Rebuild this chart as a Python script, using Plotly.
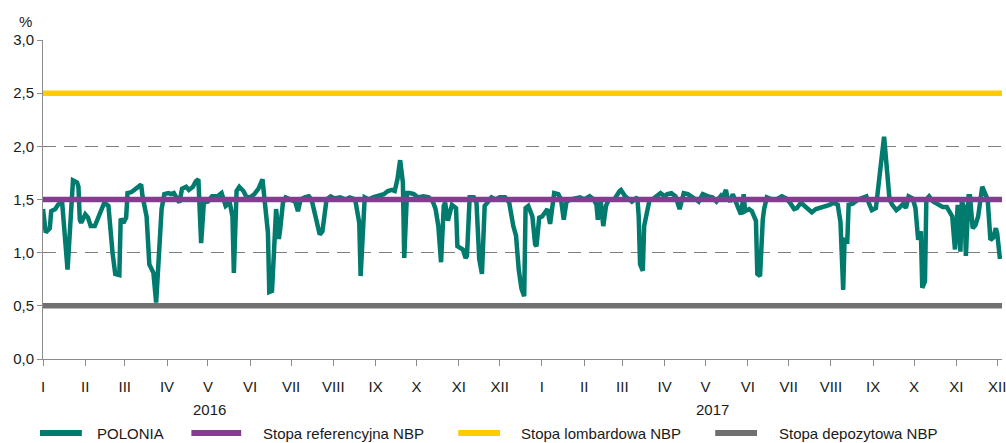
import plotly.graph_objects as go

# ===================================================================
# DATA
# ===================================================================
polonia_dates = [
    "2016-01-01", "2016-01-03", "2016-01-06", "2016-01-07", "2016-01-10", "2016-01-12",
    "2016-01-15", "2016-01-19", "2016-01-23", "2016-01-26", "2016-01-27", "2016-01-28",
    "2016-01-29", "2016-02-01", "2016-02-03", "2016-02-05", "2016-02-08", "2016-02-10",
    "2016-02-13", "2016-02-15", "2016-02-18", "2016-02-19", "2016-02-21", "2016-02-23",
    "2016-02-26", "2016-02-27", "2016-02-29", "2016-03-02", "2016-03-03", "2016-03-06",
    "2016-03-08", "2016-03-11", "2016-03-13", "2016-03-14", "2016-03-17", "2016-03-19",
    "2016-03-22", "2016-03-24", "2016-03-28", "2016-03-30", "2016-04-02", "2016-04-04",
    "2016-04-06", "2016-04-10", "2016-04-12", "2016-04-15", "2016-04-17", "2016-04-20",
    "2016-04-22", "2016-04-24", "2016-04-26", "2016-04-28", "2016-05-01", "2016-05-04",
    "2016-05-08", "2016-05-11", "2016-05-14", "2016-05-17", "2016-05-19", "2016-05-20",
    "2016-05-22", "2016-05-24", "2016-05-27", "2016-05-29", "2016-06-01", "2016-06-04",
    "2016-06-07", "2016-06-10", "2016-06-14", "2016-06-15", "2016-06-17", "2016-06-20",
    "2016-06-22", "2016-06-23", "2016-06-25", "2016-06-27", "2016-07-01", "2016-07-04",
    "2016-07-06", "2016-07-08", "2016-07-11", "2016-07-14", "2016-07-16", "2016-07-19",
    "2016-07-22", "2016-07-24", "2016-07-27", "2016-07-30", "2016-08-02", "2016-08-06",
    "2016-08-10", "2016-08-13", "2016-08-17", "2016-08-20", "2016-08-21", "2016-08-24",
    "2016-08-27", "2016-08-30", "2016-09-03", "2016-09-07", "2016-09-10", "2016-09-13",
    "2016-09-15", "2016-09-17", "2016-09-19", "2016-09-21", "2016-09-22", "2016-09-24",
    "2016-09-26", "2016-09-29", "2016-10-02", "2016-10-06", "2016-10-10", "2016-10-13",
    "2016-10-15", "2016-10-17", "2016-10-19", "2016-10-21", "2016-10-22", "2016-10-24",
    "2016-10-27", "2016-10-30", "2016-10-31", "2016-11-02", "2016-11-04", "2016-11-06",
    "2016-11-07", "2016-11-09", "2016-11-12", "2016-11-14", "2016-11-16", "2016-11-18",
    "2016-11-20", "2016-11-22", "2016-11-25", "2016-11-28", "2016-12-01", "2016-12-05",
    "2016-12-08", "2016-12-11", "2016-12-13", "2016-12-15", "2016-12-17", "2016-12-19",
    "2016-12-20", "2016-12-22", "2016-12-25", "2016-12-27", "2016-12-28", "2016-12-30",
    "2017-01-01", "2017-01-04", "2017-01-05", "2017-01-07", "2017-01-08", "2017-01-10",
    "2017-01-13", "2017-01-15", "2017-01-17", "2017-01-19", "2017-01-22", "2017-01-25",
    "2017-01-29", "2017-02-01", "2017-02-05", "2017-02-08", "2017-02-10", "2017-02-11",
    "2017-02-13", "2017-02-15", "2017-02-17", "2017-02-19", "2017-02-23", "2017-02-27",
    "2017-02-28", "2017-03-03", "2017-03-06", "2017-03-08", "2017-03-12", "2017-03-13",
    "2017-03-14", "2017-03-16", "2017-03-17", "2017-03-19", "2017-03-21", "2017-03-23",
    "2017-03-26", "2017-03-29", "2017-04-01", "2017-04-03", "2017-04-06", "2017-04-09",
    "2017-04-12", "2017-04-15", "2017-04-18", "2017-04-21", "2017-04-24", "2017-04-26",
    "2017-04-29", "2017-05-03", "2017-05-06", "2017-05-09", "2017-05-12", "2017-05-13",
    "2017-05-16", "2017-05-17", "2017-05-19", "2017-05-21", "2017-05-23", "2017-05-25",
    "2017-05-27", "2017-05-29", "2017-05-30", "2017-06-02", "2017-06-04", "2017-06-07",
    "2017-06-08", "2017-06-10", "2017-06-12", "2017-06-13", "2017-06-15", "2017-06-19",
    "2017-06-22", "2017-06-26", "2017-06-29", "2017-07-02", "2017-07-05", "2017-07-07",
    "2017-07-10", "2017-07-13", "2017-07-15", "2017-07-18", "2017-07-21", "2017-07-24",
    "2017-07-28", "2017-07-31", "2017-08-03", "2017-08-06", "2017-08-08", "2017-08-10",
    "2017-08-11", "2017-08-13", "2017-08-14", "2017-08-17", "2017-08-21", "2017-08-24",
    "2017-08-27", "2017-08-29", "2017-08-31", "2017-09-03", "2017-09-05", "2017-09-07",
    "2017-09-09", "2017-09-11", "2017-09-13", "2017-09-15", "2017-09-18", "2017-09-20",
    "2017-09-23", "2017-09-25", "2017-09-27", "2017-09-30", "2017-10-02", "2017-10-04",
    "2017-10-06", "2017-10-07", "2017-10-09", "2017-10-10", "2017-10-12", "2017-10-15",
    "2017-10-19", "2017-10-22", "2017-10-25", "2017-10-27", "2017-10-29", "2017-10-31",
    "2017-11-02", "2017-11-04", "2017-11-05", "2017-11-07", "2017-11-08", "2017-11-10",
    "2017-11-11", "2017-11-13", "2017-11-15", "2017-11-17", "2017-11-20", "2017-11-22",
    "2017-11-24", "2017-11-26", "2017-11-28", "2017-11-30", "2017-12-01", "2017-12-03",
]
polonia_values = [
    1.41, 1.19, 1.23, 1.39, 1.41, 1.45,
    1.48, 0.84, 1.68, 1.66, 1.62, 1.31,
    1.28, 1.36, 1.33, 1.25, 1.25, 1.31,
    1.42, 1.47, 1.44, 1.25, 1.00, 0.80,
    0.79, 1.32, 1.28, 1.33, 1.56, 1.57,
    1.59, 1.62, 1.64, 1.53, 1.34, 0.89,
    0.81, 0.53, 1.41, 1.55, 1.56, 1.55,
    1.56, 1.47, 1.60, 1.62, 1.59, 1.62,
    1.67, 1.69, 1.09, 1.47, 1.48, 1.53,
    1.53, 1.56, 1.44, 1.47, 1.34, 0.81,
    1.58, 1.62, 1.58, 1.53, 1.52, 1.55,
    1.60, 1.69, 1.19, 0.63, 0.64, 1.41,
    1.13, 1.22, 1.47, 1.52, 1.50, 1.48,
    1.39, 1.50, 1.52, 1.53, 1.50, 1.34,
    1.17, 1.20, 1.50, 1.53, 1.51, 1.52,
    1.50, 1.52, 1.50, 1.28, 0.78, 1.52,
    1.50, 1.52, 1.53, 1.55, 1.58, 1.59,
    1.58, 1.69, 1.87, 1.66, 0.95, 1.56,
    1.56, 1.55, 1.52, 1.53, 1.52, 1.48,
    1.41, 1.25, 0.91, 1.44, 1.47, 1.30,
    1.45, 1.42, 1.06, 1.05, 1.03, 0.95,
    0.97, 1.52, 1.52, 1.47, 0.94, 0.80,
    1.44, 1.47, 1.52, 1.50, 1.52, 1.52,
    1.47, 1.25, 1.16, 0.84, 0.66, 0.59,
    1.42, 1.44, 1.34, 1.08, 1.06, 1.33,
    1.34, 1.39, 1.41, 1.27, 1.36, 1.56,
    1.55, 1.50, 1.31, 1.48, 1.50, 1.51,
    1.52, 1.50, 1.53, 1.50, 1.45, 1.31,
    1.50, 1.25, 1.44, 1.50, 1.50, 1.58,
    1.59, 1.53, 1.50, 1.48, 1.52, 1.34,
    0.89, 0.83, 1.25, 1.39, 1.50, 1.50,
    1.53, 1.56, 1.53, 1.55, 1.56, 1.53,
    1.41, 1.56, 1.55, 1.53, 1.50, 1.48,
    1.55, 1.53, 1.52, 1.48, 1.53, 1.50,
    1.59, 1.52, 1.48, 1.55, 1.47, 1.42,
    1.36, 1.55, 1.39, 1.41, 1.39, 1.30,
    0.80, 0.78, 1.31, 1.41, 1.52, 1.50,
    1.50, 1.53, 1.51, 1.47, 1.41, 1.42,
    1.47, 1.44, 1.41, 1.38, 1.41, 1.42,
    1.44, 1.45, 1.47, 1.45, 1.29, 0.65,
    1.12, 1.11, 1.45, 1.46, 1.50, 1.51,
    1.53, 1.46, 1.40, 1.42, 1.70, 1.87,
    2.09, 1.73, 1.50, 1.45, 1.40, 1.42,
    1.46, 1.42, 1.53, 1.51, 1.42, 1.12,
    1.20, 0.67, 0.73, 1.50, 1.53, 1.48,
    1.45, 1.43, 1.43, 1.39, 1.34, 1.03,
    1.45, 1.01, 1.48, 1.42, 0.97, 1.53,
    1.53, 1.23, 1.26, 1.34, 1.62, 1.56,
    1.50, 1.12, 1.14, 1.23, 1.18, 0.94,
]

rate_dates = ["2016-01-01", "2017-12-04 12:00"]
ref_rate = [1.5, 1.5]          # Stopa referencyjna NBP
lombard_rate = [2.5, 2.5]      # Stopa lombardowa NBP
deposit_rate = [0.5, 0.5]      # Stopa depozytowa NBP

month_ticks = [f"{y}-{m:02d}-01" for y in (2016, 2017) for m in range(1, 13)]
month_labels = ["I", "II", "III", "IV", "V", "VI", "VII", "VIII", "IX", "X", "XI", "XII"] * 2
year_labels = ["2016", "2017"]
year_label_dates = ["2016-05-02", "2017-05-06"]

series_names = ["POLONIA", "Stopa referencyjna NBP", "Stopa lombardowa NBP", "Stopa depozytowa NBP"]
series_colors = ["#007B6E", "#843C8E", "#FFCC00", "#707070"]

# ===================================================================
# FIGURE
# ===================================================================
FONT = "Liberation Sans, Arial, sans-serif"
W, H = 1006, 443
L, R, T, B = 43, 0, 40, 84
plot_w = W - L - R
plot_h = H - T - B

fig = go.Figure()

fig.add_trace(go.Scatter(x=polonia_dates, y=polonia_values, mode="lines",
                         name=series_names[0],
                         line=dict(color=series_colors[0], width=4.5)))
for name, color, vals in zip(series_names[1:], series_colors[1:],
                             [ref_rate, lombard_rate, deposit_rate]):
    fig.add_trace(go.Scatter(x=rate_dates, y=vals, mode="lines", name=name,
                             line=dict(color=color, width=5.5)))

# hand-drawn legend below the axis (line sample + label), pixel positions
legend_line_px = [(40, 82), (192, 242), (460, 502), (718, 760)]
legend_text_px = [95, 262, 521, 780]
legend_y = (H - B - 433) / plot_h
for name, color, (a, b), tx in zip(series_names, series_colors, legend_line_px, legend_text_px):
    fig.add_shape(type="line", xref="paper", yref="paper",
                  x0=(a - L) / plot_w, x1=(b - L) / plot_w,
                  y0=legend_y, y1=legend_y, line=dict(color=color, width=6))
    fig.add_annotation(text=name, xref="paper", yref="paper",
                       x=(tx - L) / plot_w, y=legend_y, xanchor="left",
                       yanchor="middle", showarrow=False,
                       font=dict(size=15, color="#1a1a1a", family=FONT))

for txt, d in zip(year_labels, year_label_dates):
    fig.add_annotation(text=txt, x=d, xref="x", y=-50 / plot_h, yref="paper",
                       showarrow=False, yanchor="middle",
                       font=dict(size=15, color="#1a1a1a", family=FONT))

fig.add_annotation(text="%", xref="paper", yref="paper", x=(17 - L) / plot_w,
                   y=(H - B - 22) / plot_h, showarrow=False, yanchor="middle",
                   font=dict(size=15, color="#1a1a1a", family=FONT))

fig.update_layout(
    width=W,
    height=H,
    margin=dict(l=L, r=R, t=T, b=B),
    plot_bgcolor="white",
    paper_bgcolor="white",
    showlegend=False,
    separators=", ",
    font=dict(family=FONT, size=15, color="#1a1a1a"),
    xaxis=dict(
        type="date",
        range=[rate_dates[0], rate_dates[1]],
        tickvals=month_ticks,
        ticktext=month_labels,
        ticks="outside",
        ticklen=6,
        tickcolor="#8c8c8c",
        ticklabelstandoff=8,
        ticklabeloverflow="allow",
        showline=True,
        linecolor="#8c8c8c",
        linewidth=1,
        showgrid=False,
        zeroline=False,
        tickfont=dict(size=15),
    ),
    yaxis=dict(
        range=[0, 3],
        dtick=0.5,
        tickformat=".1f",
        ticks="outside",
        ticklen=5,
        tickcolor="#8c8c8c",
        showline=True,
        linecolor="#8c8c8c",
        linewidth=1,
        showgrid=True,
        gridcolor="#7f7f7f",
        gridwidth=1,
        griddash="13px,8px",
        zeroline=False,
        tickfont=dict(size=15),
    ),
)

# drop the browser's default page margin so the figure fills the window
fig.write_html(
    "out.html",
    config={"displayModeBar": False},
    post_script="document.body.style.margin='0';document.body.style.overflow='hidden';",
)
